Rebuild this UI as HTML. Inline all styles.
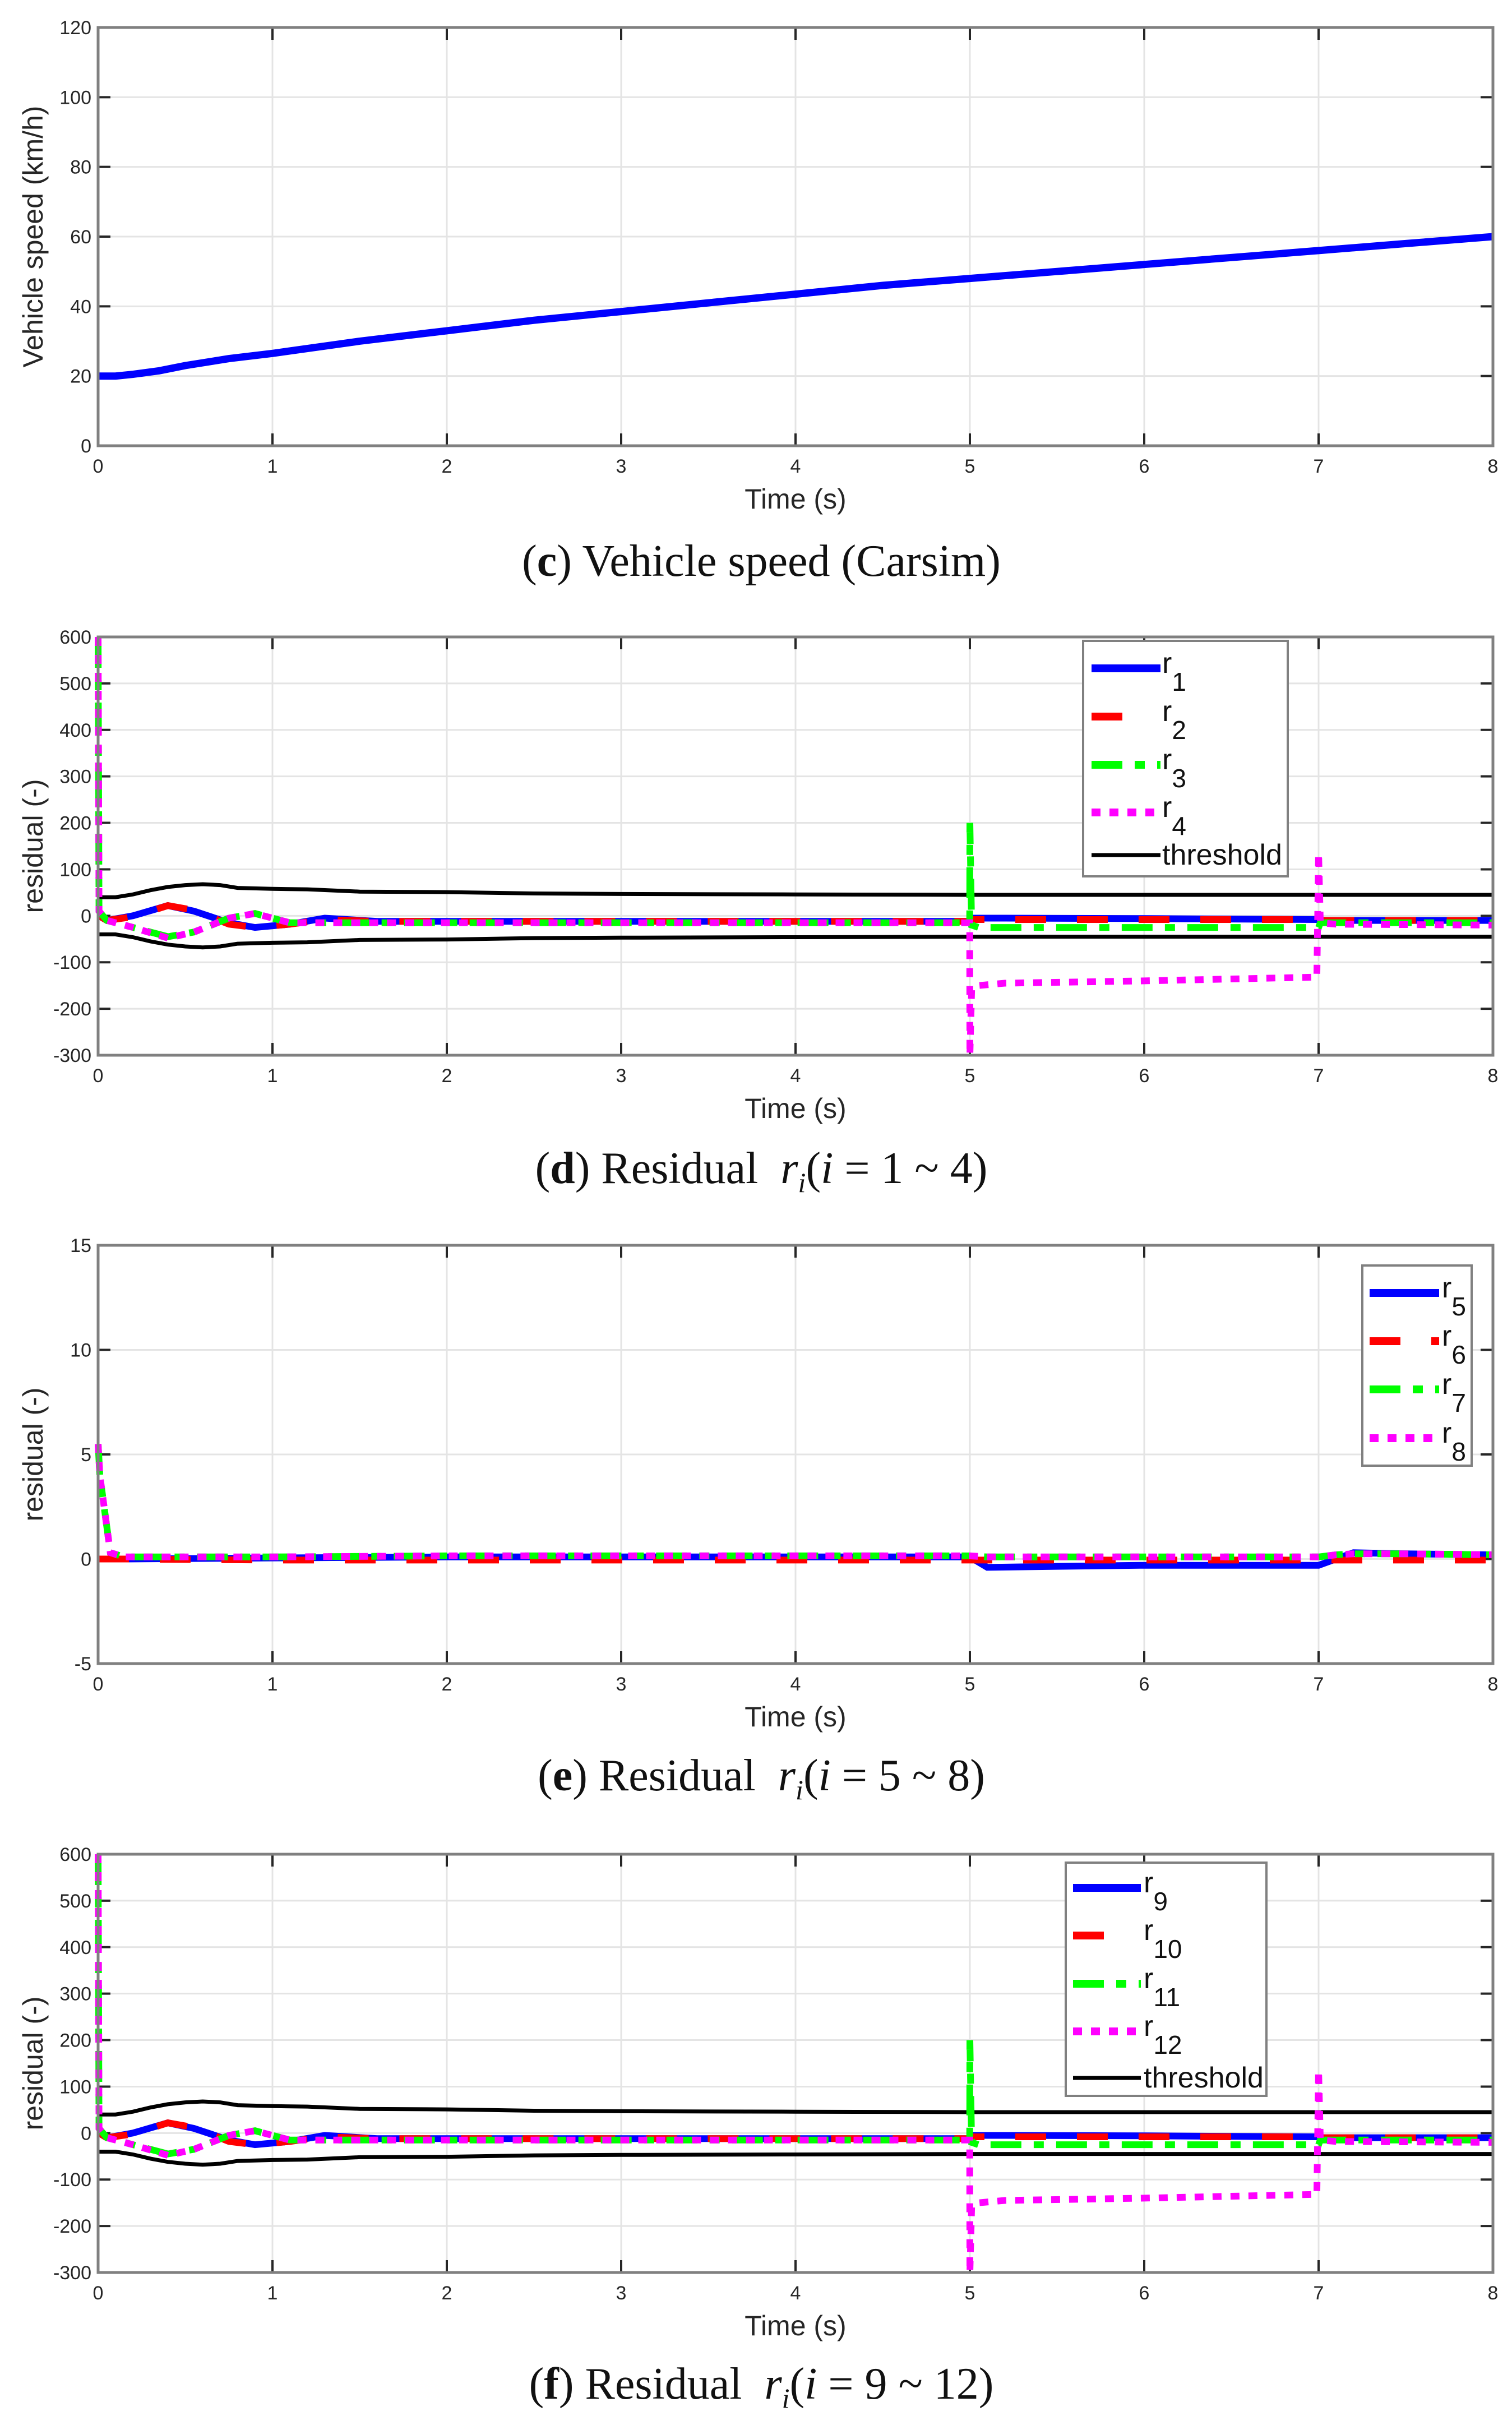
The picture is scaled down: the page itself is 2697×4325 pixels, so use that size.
<!DOCTYPE html>
<html><head><meta charset="utf-8">
<style>
html,body{margin:0;padding:0;background:#fff;}
svg{display:block;}
text{font-family:"Liberation Sans",sans-serif;}
.cap{font-family:"Liberation Serif",serif;font-size:80px;fill:#111;}
</style></head>
<body>
<svg id="fig" width="2697" height="4325" viewBox="0 0 2697 4325" xmlns="http://www.w3.org/2000/svg">
<rect width="2697" height="4325" fill="#fff"/>
</svg>
<script>
// ---- data ----
const xTicks=[0,1,2,3,4,5,6,7,8];
const speedT=[0,0.1,0.2,0.35,0.5,0.75,1,1.5,2,2.5,3,3.5,4,4.5,5,5.5,6,6.5,7,7.5,8];
const speedV=[20,20,20.5,21.5,23,25,26.5,30,33,36,38.5,41,43.5,46,48,50,52,54,56,58,60];
const speedTicks=[0,20,40,60,80,100,120];

const thrT=[0,0.1,0.2,0.3,0.4,0.5,0.6,0.7,0.8,1.0,1.2,1.5,2,2.5,3,4,5,6,8];
const thrV=[40,40,46,55,62,66,68,66,60,58,57,52,51,48,47,46,45,45,45];
const rT=[0,0.005,0.05,0.2,0.4,0.55,0.75,0.9,1.1,1.3,1.6,2,3,4,4.999,5,5.01,5.05,5.2,6,6.99,7,7.01,7.1,8];
const r1V=[0,0,-10,0,22,10,-15,-25,-18,-5,-12,-12,-12,-12,-12,-12,-5,-5,-5,-6,-8,-8,-10,-10,-10];
const r2V=[0,0,-10,-2,22,12,-18,-25,-18,-8,-12,-12,-12,-12,-12,-12,-8,-8,-8,-8,-8,-8,-10,-10,-10];
const r3V=[600,10,-10,-25,-45,-35,-5,5,-15,-15,-15,-15,-15,-15,-15,200,-20,-25,-25,-25,-25,-25,-15,-15,-15];
const r4V=[600,10,-10,-25,-48,-35,-5,5,-15,-15,-15,-15,-15,-15,-15,-300,-160,-150,-145,-140,-132,135,-15,-18,-20];
const resTicks=[-300,-200,-100,0,100,200,300,400,500,600];

const eT=[0,0.01,0.07,0.15,1,2,3,4,5,5.1,5.5,6,6.5,7,7.1,7.2,7.5,8];
const r5V=[0,0,0,0,0.05,0.1,0.1,0.1,0.1,-0.4,-0.35,-0.3,-0.3,-0.3,0,0.3,0.25,0.2];
const r6V=[0,0,0,0,-0.05,-0.05,-0.05,-0.05,-0.05,-0.05,-0.05,-0.05,-0.05,-0.05,-0.05,-0.05,-0.05,-0.05];
const r7V=[5.5,4,0.3,0.1,0.1,0.15,0.15,0.15,0.15,0.1,0.1,0.1,0.1,0.1,0.2,0.25,0.25,0.2];
const r8V=[5.5,4,0.3,0.1,0.1,0.15,0.15,0.15,0.15,0.1,0.1,0.1,0.1,0.1,0.2,0.25,0.25,0.2];
const eTicks=[-5,0,5,10,15];

const NS="http://www.w3.org/2000/svg";
const fig=document.getElementById('fig');
function mk(tag,attrs,parent){const e=document.createElementNS(NS,tag);for(const k in attrs)e.setAttribute(k,attrs[k]);(parent||fig).appendChild(e);return e;}
const X0=175,X1=2663;
function xs(t){return X0+(t-0)/(8-0)*(X1-X0);}

const STY={
 blue:{stroke:'#0000ff',dash:''},
 red:{stroke:'#ff0000',dash:'55,55'},
 green:{stroke:'#00ff00',dash:'55,22,18,22'},
 mag:{stroke:'#ff00ff',dash:'16,16'},
 black:{stroke:'#000000',dash:''}
};

function panel(name,top,bot,ymin,ymax,yticks,ylabel){
  const g=mk('g',{});
  
  
  const ys=v=>bot-(v-ymin)/(ymax-ymin)*(bot-top);
  xTicks.forEach(t=>{const l=mk('line',{x1:xs(t),x2:xs(t),y1:top,y2:bot,stroke:'#e4e4e4','stroke-width':3},g);
    
    });
  yticks.forEach(v=>{const l=mk('line',{x1:X0,x2:X1,y1:ys(v),y2:ys(v),stroke:'#e4e4e4','stroke-width':3},g);
    
    });
  xTicks.forEach(t=>{
    mk('line',{x1:xs(t),x2:xs(t),y1:top,y2:top+22,stroke:'#262626','stroke-width':4},g);
    mk('line',{x1:xs(t),x2:xs(t),y1:bot,y2:bot-22,stroke:'#262626','stroke-width':4},g);
    const tx=mk('text',{x:xs(t),y:bot+48,'font-size':34,fill:'#262626','text-anchor':'middle'},g);
    tx.textContent=t;
    
    
  });
  yticks.forEach(v=>{
    mk('line',{x1:X0,x2:X0+22,y1:ys(v),y2:ys(v),stroke:'#262626','stroke-width':4},g);
    mk('line',{x1:X1,x2:X1-22,y1:ys(v),y2:ys(v),stroke:'#262626','stroke-width':4},g);
    const tx=mk('text',{x:X0-12,y:ys(v)+12,'font-size':34,fill:'#262626','text-anchor':'end'},g);
    tx.textContent=v;
    
    
  });
  const xl=mk('text',{x:(X0+X1)/2,y:bot+112,'font-size':50,fill:'#262626','text-anchor':'middle'},g);
  xl.textContent='Time (s)';
  
  
  const cy=(top+bot)/2;
  const yl=mk('text',{x:76,y:cy,'font-size':50,fill:'#262626','text-anchor':'middle',transform:`rotate(-90 76 ${cy})`},g);
  yl.textContent=ylabel;
  
  
  return {g,ys,top,bot};
}
function series(p,T,V,sty,name,w){
  const d=T.map((t,i)=>(i?'L':'M')+xs(t).toFixed(1)+','+p.ys(V[i]).toFixed(1)).join('');
  const a={d,fill:'none',stroke:sty.stroke,'stroke-width':w||12};
  if(sty.dash)a['stroke-dasharray']=sty.dash;
  const pa=mk('path',a,p.g);
  
  
}
function frame(p){
  const r=mk('rect',{x:X0,y:p.top,width:X1-X0,height:p.bot-p.top,fill:'none',stroke:'#808080','stroke-width':5},p.g);
  
  
}
function legend(p,bx,by,bw,bh,entries,lx0,lx1,tx,ys){
  const lg=mk('g',{},p.g);
  
  
  mk('rect',{x:bx,y:by,width:bw,height:bh,fill:'#fff',stroke:'#808080','stroke-width':4},lg);
  entries.forEach((e,i)=>{
    const a={x1:lx0,x2:e.short?lx0+(lx1-lx0)*0.55:lx1,y1:ys[i],y2:ys[i],stroke:e.sty.stroke,'stroke-width':e.w||14};
    if(e.sty.dash)a['stroke-dasharray']=e.sty.dash;
    mk('line',a,lg);
    const t=mk('text',{x:tx,y:ys[i]+(e.sub?8:17),'font-size':52,fill:'#111'},lg);
    
    
    t.textContent=e.label;
    if(e.sub){const s=mk('tspan',{dy:32,'font-size':46},t);s.textContent=e.sub;}
  });
}
function caption(y,letter,rest,sub,range){
  const t=mk('text',{x:1358,y:y,'text-anchor':'middle',class:'cap'});
  
  
  mk('tspan',{},t).textContent='(';
  mk('tspan',{'font-weight':'bold'},t).textContent=letter;
  mk('tspan',{},t).textContent=') '+rest;
  if(sub){
    mk('tspan',{'font-style':'italic',dx:40},t).textContent='r';
    mk('tspan',{'font-style':'italic','font-size':50,dy:16},t).textContent='i';
    mk('tspan',{dy:-16},t).textContent='(';
    mk('tspan',{'font-style':'italic'},t).textContent='i';
    mk('tspan',{},t).textContent=' = '+range+')';
  }
}

const pc=panel('speed-chart',49,795,0,120,speedTicks,'Vehicle speed (km/h)');
series(pc,speedT,speedV,STY.blue,'speed-line',13);
frame(pc);
caption(1027,'c','Vehicle speed (Carsim)',false);

function resPanel(name,top,labels,leg){
  const p=panel(name,top,top+746,-300,600,resTicks,'residual (-)');
  const ng=thrV.map(v=>-v);
  series(p,thrT,thrV,STY.black,'threshold-upper',7);
  series(p,thrT,ng,STY.black,'threshold-lower',7);
  series(p,rT,r1V,STY.blue,'series-'+labels[0]);
  series(p,rT,r2V,STY.red,'series-'+labels[1]);
  series(p,rT,r3V,STY.green,'series-'+labels[2]);
  series(p,rT,r4V,STY.mag,'series-'+labels[3]);
  frame(p);
  legend(p,leg.bx,leg.by,leg.bw,leg.bh,[
    {sty:STY.blue,label:'r',sub:labels[0].slice(1)},
    {sty:STY.red,label:'r',sub:labels[1].slice(1),short:true},
    {sty:STY.green,label:'r',sub:labels[2].slice(1)},
    {sty:STY.mag,label:'r',sub:labels[3].slice(1)},
    {sty:STY.black,label:'threshold',w:7}],leg.lx0,leg.lx1,leg.tx,leg.ys);
  return p;
}
resPanel('residual-chart-d',1136,['r1','r2','r3','r4'],{bx:1932,by:1143,bw:365,bh:420,lx0:1947,lx1:2070,tx:2073,ys:[1192,1278,1364,1449,1525]});
caption(2110,'d','Residual',true,'1 ~ 4');

const pe=panel('residual-chart-e',2221,2967,-5,15,eTicks,'residual (-)');
series(pe,eT,r5V,STY.blue,'series-r5');
series(pe,eT,r6V,STY.red,'series-r6');
series(pe,eT,r7V,STY.green,'series-r7');
series(pe,eT,r8V,STY.mag,'series-r8');
frame(pe);
legend(pe,2430,2257,195,357,[
  {sty:STY.blue,label:'r',sub:'5'},
  {sty:STY.red,label:'r',sub:'6'},
  {sty:STY.green,label:'r',sub:'7'},
  {sty:STY.mag,label:'r',sub:'8'}],2443,2567,2572,[2306,2392,2478,2565]);
caption(3193,'e','Residual',true,'5 ~ 8');

resPanel('residual-chart-f',3307,['r9','r10','r11','r12'],{bx:1901,by:3322,bw:358,bh:416,lx0:1914,lx1:2035,tx:2040,ys:[3367,3452,3538,3623,3706]});
caption(4278,'f','Residual',true,'9 ~ 12');
</script>
</body></html>
